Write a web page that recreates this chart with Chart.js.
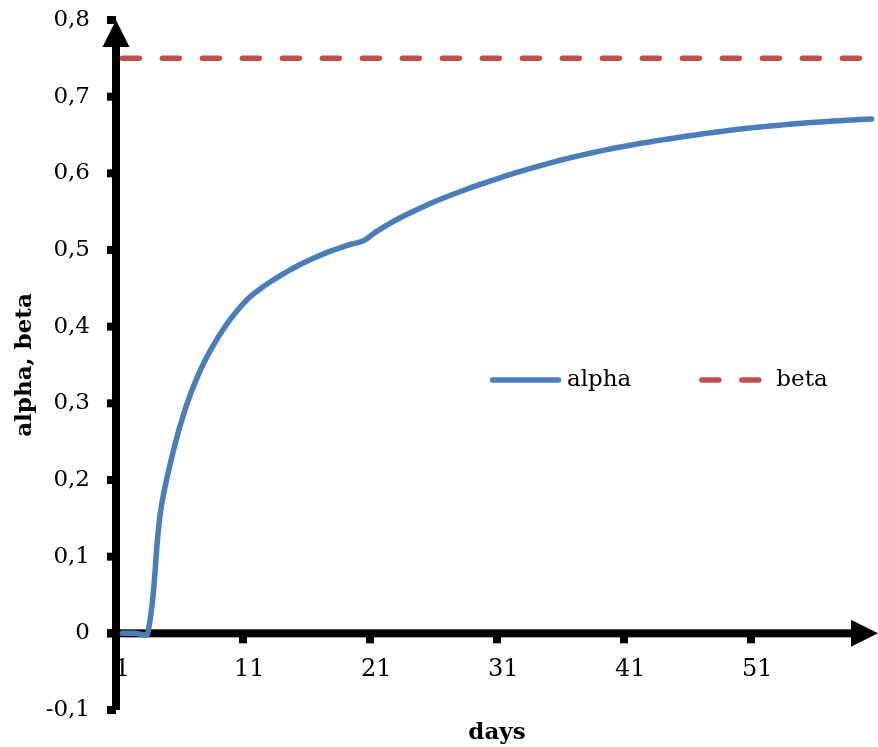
<!DOCTYPE html>
<html>
<head>
<meta charset="utf-8">
<script src="https://cdn.jsdelivr.net/npm/chart.js@4.4.3/dist/chart.umd.min.js"></script>
<style>
  html, body { margin: 0; padding: 0; background: #fff; }
  #wrap { width: 878px; height: 747px; position: relative; }
</style>
</head>
<body>
<div id="wrap"><canvas id="chart"></canvas></div>
<script>
// days on the category axis
const days = [
  1, 2, 3, 4, 5, 6, 7, 8, 9, 10,
  11, 12, 13, 14, 15, 16, 17, 18, 19, 20,
  21, 22, 23, 24, 25, 26, 27, 28, 29, 30,
  31, 32, 33, 34, 35, 36, 37, 38, 39, 40,
  41, 42, 43, 44, 45, 46, 47, 48, 49, 50,
  51, 52, 53, 54, 55, 56, 57, 58, 59, 60
];

// values
const alphaValues = [
  0, 0, 0, 0.158, 0.237, 0.295, 0.338, 0.371, 0.398, 0.420,
  0.438, 0.451, 0.462, 0.472, 0.481, 0.489, 0.496, 0.502, 0.5075, 0.512,
  0.524, 0.534, 0.543, 0.5512, 0.5588, 0.5658, 0.5724, 0.5786, 0.5845, 0.5901,
  0.5956, 0.6008, 0.6058, 0.6105, 0.6149, 0.6191, 0.6231, 0.6268, 0.6303, 0.6336,
  0.6367, 0.6396, 0.6423, 0.6449, 0.6474, 0.6498, 0.6521, 0.6543, 0.6564, 0.6584,
  0.6601, 0.6617, 0.6632, 0.6646, 0.6659, 0.6671, 0.6682, 0.6692, 0.6701, 0.6709
];

const betaValues = [
  0.75, 0.75, 0.75, 0.75, 0.75, 0.75, 0.75, 0.75, 0.75, 0.75,
  0.75, 0.75, 0.75, 0.75, 0.75, 0.75, 0.75, 0.75, 0.75, 0.75,
  0.75, 0.75, 0.75, 0.75, 0.75, 0.75, 0.75, 0.75, 0.75, 0.75,
  0.75, 0.75, 0.75, 0.75, 0.75, 0.75, 0.75, 0.75, 0.75, 0.75,
  0.75, 0.75, 0.75, 0.75, 0.75, 0.75, 0.75, 0.75, 0.75, 0.75,
  0.75, 0.75, 0.75, 0.75, 0.75, 0.75, 0.75, 0.75, 0.75, 0.75
];

const yMin = -0.1;
const yMax = 0.8;
const yStep = 0.1;
const labelEvery = 10; // show 1, 11, 21, ...

const FONT = 'DejaVu Serif';
const ALPHA_COLOR = '#4A7EBB';
const BETA_COLOR = '#C0504D';

function fmtComma(v) {
    if (Math.abs(v) < 1e-9) return '0';
    return v.toFixed(1).replace('.', ',');
}

// no extra room for half labels, the plot area is fixed by layout.padding
function noScalePadding(scale) {
    scale.paddingTop = 0;
    scale.paddingBottom = 0;
    scale.paddingLeft = 0;
    scale.paddingRight = 0;
}

// thick black axes with arrow heads, drawn under the lines
const arrowAxes = {
    id: 'arrowAxes',
    beforeDatasetsDraw(chart) {
        const { ctx, chartArea, scales: { x, y } } = chart;
        const x0 = chartArea.left;
        const y0 = y.getPixelForValue(0);
        const top = chartArea.top;
        const right = chartArea.right;
        const head = 27, half = 13.5, w = 8;
        ctx.save();
        ctx.fillStyle = '#000';

        // vertical axis
        ctx.fillRect(x0 - w / 2, top + head - 1, w, chartArea.bottom - top - head + 1);
        ctx.beginPath();
        ctx.moveTo(x0, top);
        ctx.lineTo(x0 - half, top + head);
        ctx.lineTo(x0 + half, top + head);
        ctx.closePath();
        ctx.fill();
        y.ticks.forEach((t, i) => {
            const py = y.getPixelForTick(i);
            ctx.fillRect(x0 - 9, py - 4, 9, 8);
        });

        // horizontal axis
        ctx.fillRect(x0 - 9, y0 - w / 2, right - head + 1 - (x0 - 9), w);
        ctx.beginPath();
        ctx.moveTo(right, y0);
        ctx.lineTo(right - head, y0 - half);
        ctx.lineTo(right - head, y0 + half);
        ctx.closePath();
        ctx.fill();
        x.ticks.forEach((t, i) => {
            if (i === 0 || i % labelEvery !== 0) return;
            const px = (x.getPixelForTick(i - 1) + x.getPixelForTick(i)) / 2;
            ctx.fillRect(px - 4, y0 + w / 2 - 1, 8, 7);
        });
        ctx.restore();
    }
};

// legend sitting inside the plot area
const insideLegend = {
    id: 'insideLegend',
    afterDraw(chart) {
        const { ctx, chartArea } = chart;
        const sampleLen = 71;
        let lx = chartArea.left + 374;
        const ly = chartArea.top + 360;
        ctx.save();
        ctx.font = `23px '${FONT}'`;
        ctx.textBaseline = 'middle';
        ctx.textAlign = 'left';
        chart.data.datasets.forEach(ds => {
            ctx.strokeStyle = ds.borderColor;
            ctx.lineWidth = ds.borderWidth;
            ctx.lineCap = 'round';
            ctx.setLineDash(ds.borderDash || []);
            ctx.beginPath();
            ctx.moveTo(lx + 2.5, ly);
            ctx.lineTo(lx + sampleLen - 2.5, ly);
            ctx.stroke();
            ctx.setLineDash([]);
            ctx.fillStyle = '#000';
            ctx.fillText(ds.label, lx + sampleLen + 6, ly);
            lx += sampleLen + 6 + ctx.measureText(ds.label).width + 68;
        });
        ctx.restore();
    }
};

const chart = new Chart(document.getElementById('chart').getContext('2d'), {
    type: 'line',
    data: {
        labels: days,
        datasets: [
            {
                label: 'alpha',
                data: alphaValues,
                borderColor: ALPHA_COLOR,
                borderWidth: 5.5,
                borderCapStyle: 'round',
                borderJoinStyle: 'round',
                tension: 0.35,
                pointRadius: 0,
                fill: false
            },
            {
                label: 'beta',
                data: betaValues,
                borderColor: BETA_COLOR,
                borderWidth: 5.5,
                borderDash: [17, 23],
                borderCapStyle: 'round',
                pointRadius: 0,
                fill: false
            }
        ]
    },
    options: {
        responsive: true,
        maintainAspectRatio: false,
        animation: false,
        layout: { padding: { top: 20, right: 0, bottom: 0, left: 0 } },
        plugins: {
            legend: { display: false },
            tooltip: { enabled: false }
        },
        scales: {
            x: {
                type: 'category',
                offset: true,
                position: { y: 0 },
                grid: { display: false, drawTicks: false },
                border: { display: false },
                ticks: {
                    autoSkip: false,
                    maxRotation: 0,
                    padding: 22,
                    color: '#000',
                    font: { family: FONT, size: 24 },
                    callback(value, index) {
                        return index % labelEvery === 0 ? this.getLabelForValue(value) : '';
                    }
                },
                afterFit: noScalePadding
            },
            x2: {
                type: 'category',
                labels: days,
                offset: true,
                position: 'bottom',
                grid: { display: false, drawTicks: false },
                border: { display: false },
                ticks: { display: false },
                title: {
                    display: true,
                    text: 'days',
                    color: '#000',
                    font: { family: FONT, size: 23, weight: 'bold' },
                    padding: { top: 0, bottom: 0 }
                },
                afterFit(scale) {
                    noScalePadding(scale);
                    scale.height = 37;
                }
            },
            y: {
                min: yMin,
                max: yMax,
                grid: { display: false, drawTicks: false },
                border: { display: false },
                ticks: {
                    stepSize: yStep,
                    padding: 26,
                    color: '#000',
                    font: { family: FONT, size: 23 },
                    callback: v => fmtComma(v)
                },
                title: {
                    display: true,
                    text: 'alpha, beta',
                    color: '#000',
                    font: { family: FONT, size: 23, weight: 'bold' },
                    padding: { top: 11, bottom: 0 }
                },
                afterFit(scale) {
                    noScalePadding(scale);
                    scale.width = 116;
                }
            }
        }
    },
    plugins: [arrowAxes, insideLegend]
});
</script>
</body>
</html>
